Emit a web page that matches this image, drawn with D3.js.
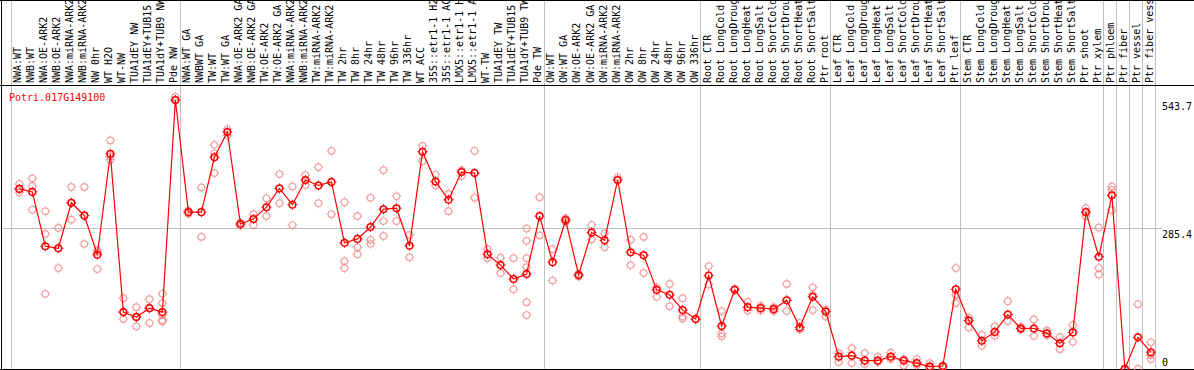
<!DOCTYPE html>
<html>
<head>
<meta charset="utf-8">
<script src="https://cdn.jsdelivr.net/npm/d3@7"></script>
<style>
  body { margin: 0; background: #fff; }
  svg text { font-family: "DejaVu Sans Mono", monospace; font-size: 10px; }
</style>
</head>
<body>
<div id="chart"></div>
<script>
// sample names (header, read bottom to top)
const samples = [
  "NWA:WT", "NWB:WT", "NWA:OE-ARK2", "NWB:OE-ARK2", "NWA:miRNA-ARK2", "NWB:miRNA-ARK2",
  "NW 0hr", "WT H2O", "WT-NW", "TUA1dEY NW", "TUA1dEY+TUB15 NW", "TUA1dY+TUB9 NW", "Pde NW",
  "NWA:WT GA", "NWBWT GA", "TW:WT", "TW:WT GA", "NWA:OE-ARK2 GA", "NWB:OE-ARK2 GA",
  "TW:OE-ARK2", "TW:OE-ARK2 GA", "NWA:miRNA-ARK2 GA", "NWB:miRNA-ARK2 GA", "TW:miRNA-ARK2",
  "TW:miRNA-ARK2 GA", "TW 2hr", "TW 8hr", "TW 24hr", "TW 48hr", "TW 96hr", "TW 336hr", "WT ACC",
  "35S::etr1-1 H2O", "35S::etr1-1 ACC", "LMX5::etr1-1 H2O", "LMX5::etr1-1 ACC", "WT-TW",
  "TUA1dEY TW", "TUA1dEY+TUB15 TW", "TUA1dY+TUB9 TW", "Pde TW",
  "OW:WT", "OW:WT GA", "OW:OE-ARK2", "OW:OE-ARK2 GA", "OW:miRNA-ARK2", "OW:miRNA-ARK2 GA",
  "OW 2hr", "OW 8hr", "OW 24hr", "OW 48hr", "OW 96hr", "OW 336hr",
  "Root CTR", "Root LongCold", "Root LongDrought", "Root LongHeat", "Root LongSalt",
  "Root ShortCold", "Root ShortDrought", "Root ShortHeat", "Root ShortSalt", "Ptr root",
  "Leaf CTR", "Leaf LongCold", "Leaf LongDrought", "Leaf LongHeat", "Leaf LongSalt",
  "Leaf ShortCold", "Leaf ShortDrought", "Leaf ShortHeat", "Leaf ShortSalt", "Ptr leaf",
  "Stem CTR", "Stem LongCold", "Stem LongDrought", "Stem LongHeat", "Stem LongSalt",
  "Stem ShortCold", "Stem ShortDrought", "Stem ShortHeat", "Stem ShortSalt", "Ptr shoot",
  "Ptr xylem", "Ptr phloem", "Ptr fiber", "Ptr vessel", "Ptr fiber vessel"
];

// mean expression per sample
const means = [
  364, 358, 248, 244, 336, 310, 231, 435, 115, 105, 123, 115, 543.7,
  317, 317, 428, 479, 293, 303, 327, 365, 332, 382, 371, 378, 255, 263, 287, 323, 325,
  249, 439, 379, 342, 398, 396, 232, 210, 182, 192, 309,
  216, 301, 190, 276, 260, 382, 236, 230, 160, 150, 119, 101,
  189, 87, 160, 125, 123, 121, 139, 84, 146, 116,
  25, 27, 17, 17, 25, 17, 12, 5, 6, 161,
  98, 57, 75, 110, 82, 82, 72, 52, 74, 317, 227,
  351, 0, 64, 34
];

// individual replicates per sample
const reps = [
  [374, 357, 364], [385, 370, 322], [319, 273, 152], [285, 204, 244], [368, 302, 336], [368, 253, 310],
  [240, 202, 236], [462, 423, 430], [143, 101, 115], [125, 86, 105], [141, 93, 123], [152, 133, 99, 96, 110], [550, 543],
  [320, 314], [367, 267], [453, 436, 396], [485, 472], [296, 290], [313, 291], [345, 309], [394, 335],
  [369, 291], [392, 372], [408, 335], [441, 313], [337, 218, 204], [309, 246, 232], [346, 261, 253],
  [402, 299, 269], [349, 299], [271, 226], [451, 420], [393, 371], [354, 319], [402, 390], [441, 346],
  [242, 224], [225, 194], [224, 161], [284, 259, 224, 206, 135, 109], [347, 270],
  [242, 179], [305, 297], [187, 192], [291, 262], [274, 246], [388], [261, 210], [267, 194],
  [165, 146], [172, 127], [143, 106, 102], [101],
  [208, 171], [117, 72, 66], [162], [136, 118], [128, 118], [125, 117], [172, 117], [93, 80],
  [165, 119, 150], [120, 106],
  [32, 14], [42, 12], [32, 10], [25, 14], [33, 20], [20, 7], [20, 8], [12, 2], [3], [204, 150, 133],
  [104, 84], [69, 47], [86, 67], [137, 97], [85, 80], [100, 67], [78, 68], [65, 40], [89, 55],
  [325, 309], [286, 204, 191],
  [369, 362, 321], [1], [131, 0], [54, 28, 20]
];

// group separators (sample index of each boundary)
const groupBreaks = [0, 13, 41, 53, 63, 73, 84, 85, 86, 87, 88];
const yTicks = [0, 285.4, 543.7];
const geneName = "Potri.017G149100";

const width = 1194, height = 370;
const headerBottom = 85, plotBottom = 369;

const svg = d3.select('#chart')
  .append('svg')
  .attr('width', width)
  .attr('height', height);

const x = d3.scaleLinear().domain([0, samples.length]).range([10.7, 1155.3]);
const y = d3.scaleLinear().domain([0, 543.7]).range([plotBottom, 100]);
const px = v => Math.round(v) + 0.5;

// horizontal mid grid line
svg.append('line')
  .attr('x1', 1).attr('x2', 1162)
  .attr('y1', px(y(285.4))).attr('y2', px(y(285.4)))
  .attr('stroke', '#c0c0c0');

// vertical group separators
svg.append('g')
  .selectAll('line')
  .data(groupBreaks)
  .enter()
  .append('line')
  .attr('x1', d => px(x(d))).attr('x2', d => px(x(d)))
  .attr('y1', 0).attr('y2', height)
  .attr('stroke', '#c0c0c0');

// frame
svg.append('line').attr('x1', 0).attr('x2', width).attr('y1', 0.5).attr('y2', 0.5).attr('stroke', '#000');
svg.append('line').attr('x1', 0).attr('x2', width).attr('y1', headerBottom + 0.5).attr('y2', headerBottom + 0.5).attr('stroke', '#000');
svg.append('line').attr('x1', 0).attr('x2', width).attr('y1', plotBottom + 0.5).attr('y2', plotBottom + 0.5).attr('stroke', '#000');
svg.append('line').attr('x1', 1.5).attr('x2', 1.5).attr('y1', 0).attr('y2', height).attr('stroke', '#000');

// header labels (header only has room for 14 characters)
svg.append('g')
  .selectAll('text')
  .data(samples)
  .enter()
  .append('text')
  .attr('transform', (d, i) => `translate(${x(i) + 10.5},${headerBottom - 2}) rotate(-90)`)
  .attr('fill', '#000')
  .text(d => d.slice(0, 14));

// y tick labels
svg.append('g')
  .selectAll('text')
  .data(yTicks)
  .enter()
  .append('text')
  .attr('x', 1162)
  .attr('y', d => d === 0 ? plotBottom - 3 : y(d) + 10)
  .attr('fill', '#000')
  .text(d => d);

// gene name
svg.append('text')
  .attr('x', 9)
  .attr('y', 101)
  .attr('fill', '#ff0000')
  .text(geneName);

const cx = i => x(i) + 8.6;

// circle marker with small cross ticks
function marker(sel, color, width) {
  sel.append('circle')
    .attr('r', 3.3)
    .attr('fill', 'none')
    .attr('stroke', color)
    .attr('stroke-width', width);
  sel.append('path')
    .attr('d', 'M0,-5V-3.5M0,3.5V5M-5,0H-3.5M3.5,0H5')
    .attr('stroke', color)
    .attr('stroke-width', 1);
}

// replicate points
const repPoints = [];
reps.forEach((arr, i) => arr.forEach(v => repPoints.push({ i, v })));

svg.append('g')
  .selectAll('g')
  .data(repPoints)
  .enter()
  .append('g')
  .attr('transform', d => `translate(${cx(d.i)},${y(d.v)})`)
  .attr('opacity', 0.75)
  .call(marker, '#ee8888', 1.2);

// mean line
svg.append('path')
  .datum(means)
  .attr('fill', 'none')
  .attr('stroke', '#ff0000')
  .attr('stroke-width', 1.2)
  .attr('d', d3.line().x((d, i) => cx(i)).y(d => y(d)));

// mean points
svg.append('g')
  .selectAll('g')
  .data(means)
  .enter()
  .append('g')
  .attr('transform', (d, i) => `translate(${cx(i)},${y(d)})`)
  .call(marker, '#ff0000', 1.5);
</script>
</body>
</html>
